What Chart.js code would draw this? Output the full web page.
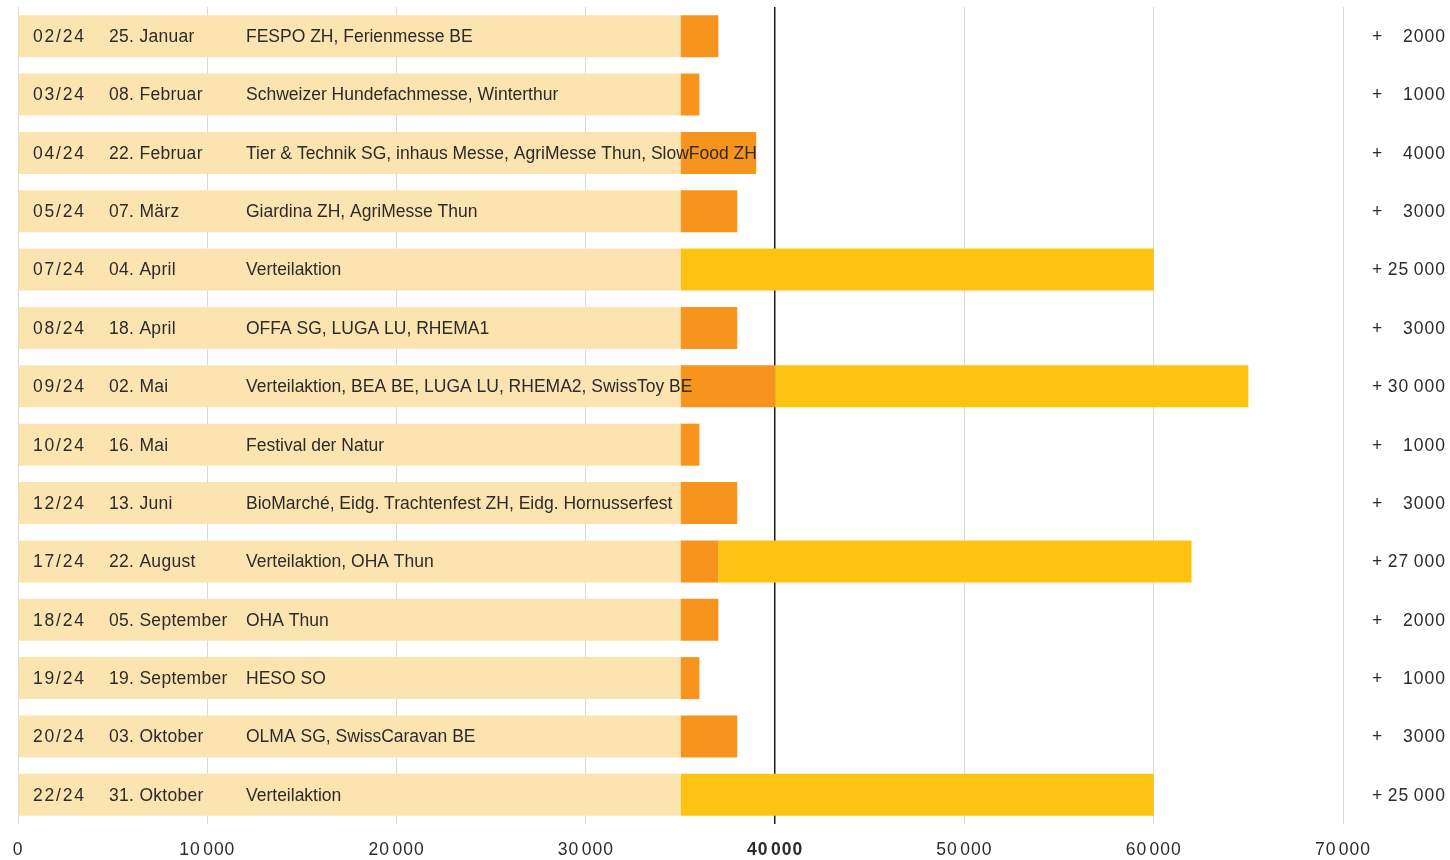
<!DOCTYPE html>
<html>
<head>
<meta charset="utf-8">
<script src="https://cdn.jsdelivr.net/npm/chart.js@4"></script>
<style>
  html, body { margin:0; padding:0; background:#fff; }
  #wrap { width:1450px; height:860px; position:relative; }
</style>
</head>
<body>
<div id="wrap"><canvas id="chart"></canvas></div>
<script>
// rows, top to bottom
const codes = ['02/24','03/24','04/24','05/24','07/24','08/24','09/24','10/24','12/24','17/24','18/24','19/24','20/24','22/24'];
const dates = ['25. Januar','08. Februar','22. Februar','07. März','04. April','18. April','02. Mai','16. Mai','13. Juni','22. August','05. September','19. September','03. Oktober','31. Oktober'];
const events = [
  'FESPO ZH, Ferienmesse BE',
  'Schweizer Hundefachmesse, Winterthur',
  'Tier & Technik SG, inhaus Messe, AgriMesse Thun, SlowFood ZH',
  'Giardina ZH, AgriMesse Thun',
  'Verteilaktion',
  'OFFA SG, LUGA LU, RHEMA1',
  'Verteilaktion, BEA BE, LUGA LU, RHEMA2, SwissToy BE',
  'Festival der Natur',
  'BioMarché, Eidg. Trachtenfest ZH, Eidg. Hornusserfest',
  'Verteilaktion, OHA Thun',
  'OHA Thun',
  'HESO SO',
  'OLMA SG, SwissCaravan BE',
  'Verteilaktion'
];
const baseValues   = [35000,35000,35000,35000,35000,35000,35000,35000,35000,35000,35000,35000,35000,35000];
const messeValues  = [2000,1000,4000,3000,0,3000,5000,1000,3000,2000,2000,1000,3000,0];
const verteilValues= [0,0,0,0,25000,0,25000,0,0,25000,0,0,0,25000];
const xTicks = [0,10000,20000,30000,40000,50000,60000,70000];
const markValue = 40000;

const FONT = '"Liberation Sans", Arial, sans-serif';

function fmt(v, sep) {
  // thousands separator only from 10 000 upward
  if (v < 10000) return String(v);
  const s = String(v);
  return s.slice(0, s.length - 3) + (sep || '\u2009') + s.slice(-3);
}

// wider digits for the axis labels
const spacingPlugin = {
  id: 'spacing',
  beforeDraw(chart) { chart.ctx.letterSpacing = '1px'; },
  afterDraw(chart) { chart.ctx.letterSpacing = '0px'; }
};

// text columns inside the beige bars + totals on the right
const labelPlugin = {
  id: 'rowLabels',
  afterDatasetsDraw(chart) {
    const { ctx, scales } = chart;
    const y = scales.y;
    ctx.save();
    ctx.fillStyle = '#2b2b2b';
    ctx.textBaseline = 'middle';
    codes.forEach((c, i) => {
      const py = y.getPixelForValue(i) + 1;
      ctx.textAlign = 'left';
      ctx.font = '17.5px ' + FONT;
      ctx.letterSpacing = '1.8px';
      ctx.fillText(c, 33, py);
      ctx.letterSpacing = '0.3px';
      ctx.fillText(dates[i], 109, py);
      ctx.letterSpacing = '0px';
      ctx.fillText(events[i], 246, py);
      const total = messeValues[i] + verteilValues[i];
      ctx.textAlign = 'center';
      ctx.fillText('+', 1377, py);
      ctx.textAlign = 'right';
      ctx.letterSpacing = '1px';
      ctx.fillText(fmt(total), 1446, py);
    });
    ctx.restore();
  }
};

new Chart(document.getElementById('chart'), {
  type: 'bar',
  data: {
    labels: codes,
    datasets: [
      { label: 'Basis', data: baseValues, backgroundColor: '#FCE4B0' },
      { label: 'Messen', data: messeValues, backgroundColor: '#F7941E' },
      { label: 'Verteilaktion', data: verteilValues, backgroundColor: '#FDC313' }
    ]
  },
  options: {
    indexAxis: 'y',
    responsive: true,
    maintainAspectRatio: false,
    animation: false,
    layout: { padding: { left: 18, right: 107, top: 7, bottom: 0 } },
    datasets: { bar: { categoryPercentage: 1, barPercentage: 0.72, borderWidth: 0 } },
    plugins: { legend: { display: false }, tooltip: { enabled: false } },
    scales: {
      x: {
        stacked: true,
        min: 0, max: 70000,
        afterBuildTicks: (ax) => { ax.ticks = xTicks.map(v => ({ value: v })); },
        afterFit: (ax) => { ax.height = 36; ax.paddingLeft = 0; ax.paddingRight = 0; },
        border: { display: false },
        grid: {
          drawTicks: false,
          color: (c) => c.tick && c.tick.value === markValue ? '#1e1e1e' : '#dadada',
          lineWidth: (c) => c.tick && c.tick.value === markValue ? 1.5 : 1
        },
        ticks: {
          padding: 16,
          color: '#2b2b2b',
          maxRotation: 0,
          font: (c) => ({ family: FONT, size: 17.5, weight: c.tick && c.tick.value === markValue ? 'bold' : 'normal' }),
          callback: (v) => fmt(v, '\u200A')
        }
      },
      y: {
        stacked: true,
        display: false
      }
    }
  },
  plugins: [spacingPlugin, labelPlugin]
});
</script>
</body>
</html>
